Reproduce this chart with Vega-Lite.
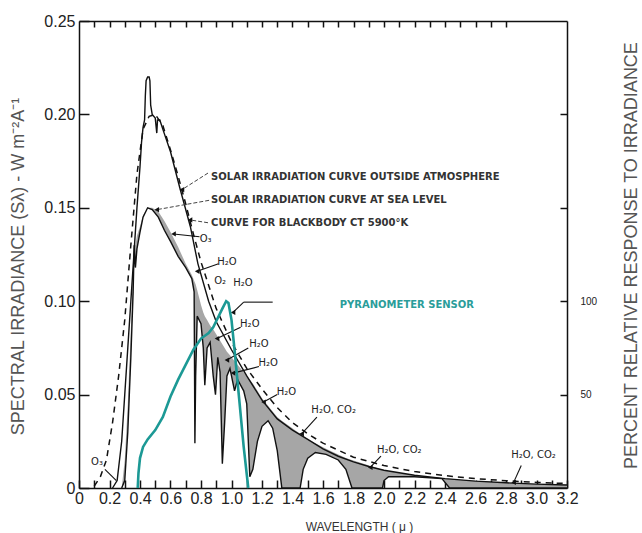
{
  "$schema": "https://vega.github.io/schema/vega-lite/v6.json",
  "width": 488,
  "height": 467,
  "autosize": {"type": "none"},
  "padding": {"left": 79, "top": 21, "right": 75, "bottom": 45},
  "background": "white",
  "config": {
    "view": {"stroke": null},
    "axis": {"grid": false, "labelFont": "Liberation Sans", "titleFont": "Liberation Sans", "domainColor": "#111", "tickColor": "#111", "labelColor": "#222", "titleColor": "#555", "titleFontWeight": "normal", "domainWidth": 1.5, "tickWidth": 1.5}
  },
  "datasets": {
    "outside": [
      {"lam": 0.22, "s": 0}, {"lam": 0.25, "s": 0.004}, {"lam": 0.28, "s": 0.025}, {"lam": 0.30, "s": 0.05}, {"lam": 0.32, "s": 0.075}, {"lam": 0.34, "s": 0.1}, {"lam": 0.36, "s": 0.125}, {"lam": 0.38, "s": 0.15}, {"lam": 0.40, "s": 0.172}, {"lam": 0.41, "s": 0.185}, {"lam": 0.42, "s": 0.193}, {"lam": 0.43, "s": 0.197}, {"lam": 0.435, "s": 0.21}, {"lam": 0.44, "s": 0.218}, {"lam": 0.45, "s": 0.22}, {"lam": 0.46, "s": 0.22}, {"lam": 0.465, "s": 0.218}, {"lam": 0.47, "s": 0.205}, {"lam": 0.48, "s": 0.2}, {"lam": 0.5, "s": 0.198}, {"lam": 0.51, "s": 0.19}, {"lam": 0.515, "s": 0.197}, {"lam": 0.53, "s": 0.197}, {"lam": 0.55, "s": 0.192}, {"lam": 0.6, "s": 0.18}, {"lam": 0.66, "s": 0.161}, {"lam": 0.73, "s": 0.14}, {"lam": 0.78, "s": 0.12}, {"lam": 0.85, "s": 0.1}, {"lam": 0.9, "s": 0.089}, {"lam": 1.0, "s": 0.074}, {"lam": 1.1, "s": 0.06}, {"lam": 1.2, "s": 0.047}, {"lam": 1.3, "s": 0.037}, {"lam": 1.4, "s": 0.031}, {"lam": 1.5, "s": 0.026}, {"lam": 1.6, "s": 0.021}, {"lam": 1.7, "s": 0.017}, {"lam": 1.8, "s": 0.014}, {"lam": 1.9, "s": 0.0115}, {"lam": 2.0, "s": 0.0095}, {"lam": 2.2, "s": 0.0068}, {"lam": 2.4, "s": 0.005}, {"lam": 2.6, "s": 0.0037}, {"lam": 2.8, "s": 0.0028}, {"lam": 3.0, "s": 0.0021}, {"lam": 3.2, "s": 0.0016}
    ],
    "blackbody": [
      {"lam": 0.10, "s": 0.001}, {"lam": 0.14, "s": 0.006}, {"lam": 0.18, "s": 0.015}, {"lam": 0.22, "s": 0.035}, {"lam": 0.26, "s": 0.06}, {"lam": 0.30, "s": 0.09}, {"lam": 0.34, "s": 0.13}, {"lam": 0.38, "s": 0.168}, {"lam": 0.42, "s": 0.192}, {"lam": 0.46, "s": 0.199}, {"lam": 0.50, "s": 0.2}, {"lam": 0.55, "s": 0.194}, {"lam": 0.6, "s": 0.181}, {"lam": 0.65, "s": 0.167}, {"lam": 0.7, "s": 0.152}, {"lam": 0.75, "s": 0.136}, {"lam": 0.8, "s": 0.121}, {"lam": 0.9, "s": 0.096}, {"lam": 1.0, "s": 0.078}, {"lam": 1.1, "s": 0.064}, {"lam": 1.2, "s": 0.053}, {"lam": 1.3, "s": 0.043}, {"lam": 1.4, "s": 0.035}, {"lam": 1.5, "s": 0.029}, {"lam": 1.6, "s": 0.024}, {"lam": 1.8, "s": 0.0165}, {"lam": 2.0, "s": 0.012}, {"lam": 2.2, "s": 0.0088}, {"lam": 2.4, "s": 0.0066}, {"lam": 2.6, "s": 0.005}, {"lam": 2.8, "s": 0.0039}, {"lam": 3.0, "s": 0.003}, {"lam": 3.2, "s": 0.0024}
    ],
    "sealevel": [
      {"lam": 0.28, "env": 0, "s": 0}, {"lam": 0.30, "env": 0.015, "s": 0.004}, {"lam": 0.32, "env": 0.045, "s": 0.03}, {"lam": 0.34, "env": 0.085, "s": 0.07}, {"lam": 0.355, "env": 0.115, "s": 0.105}, {"lam": 0.362, "env": 0.13, "s": 0.13}, {"lam": 0.37, "env": 0.13, "s": 0.118}, {"lam": 0.38, "env": 0.135, "s": 0.128}, {"lam": 0.40, "env": 0.14, "s": 0.137}, {"lam": 0.42, "env": 0.146, "s": 0.145}, {"lam": 0.45, "env": 0.15, "s": 0.15}, {"lam": 0.48, "env": 0.15, "s": 0.149}, {"lam": 0.52, "env": 0.148, "s": 0.145}, {"lam": 0.56, "env": 0.143, "s": 0.138}, {"lam": 0.6, "env": 0.137, "s": 0.132}, {"lam": 0.65, "env": 0.129, "s": 0.124}, {"lam": 0.7, "env": 0.12, "s": 0.118}, {"lam": 0.74, "env": 0.114, "s": 0.112}, {"lam": 0.755, "env": 0.111, "s": 0.105}, {"lam": 0.76, "env": 0.11, "s": 0.024}, {"lam": 0.765, "env": 0.109, "s": 0.06}, {"lam": 0.775, "env": 0.106, "s": 0.092}, {"lam": 0.8, "env": 0.098, "s": 0.088}, {"lam": 0.815, "env": 0.094, "s": 0.075}, {"lam": 0.825, "env": 0.092, "s": 0.055}, {"lam": 0.84, "env": 0.09, "s": 0.075}, {"lam": 0.86, "env": 0.087, "s": 0.078}, {"lam": 0.88, "env": 0.085, "s": 0.06}, {"lam": 0.895, "env": 0.083, "s": 0.05}, {"lam": 0.91, "env": 0.081, "s": 0.07}, {"lam": 0.925, "env": 0.079, "s": 0.062}, {"lam": 0.94, "env": 0.077, "s": 0.013}, {"lam": 0.955, "env": 0.075, "s": 0.035}, {"lam": 0.97, "env": 0.073, "s": 0.06}, {"lam": 0.99, "env": 0.071, "s": 0.064}, {"lam": 1.02, "env": 0.068, "s": 0.052}, {"lam": 1.04, "env": 0.066, "s": 0.058}, {"lam": 1.08, "env": 0.062, "s": 0.052}, {"lam": 1.1, "env": 0.06, "s": 0.045}, {"lam": 1.12, "env": 0.058, "s": 0.006}, {"lam": 1.14, "env": 0.056, "s": 0.01}, {"lam": 1.17, "env": 0.052, "s": 0.025}, {"lam": 1.2, "env": 0.048, "s": 0.033}, {"lam": 1.24, "env": 0.044, "s": 0.036}, {"lam": 1.27, "env": 0.041, "s": 0.032}, {"lam": 1.3, "env": 0.038, "s": 0.02}, {"lam": 1.33, "env": 0.036, "s": 0}, {"lam": 1.45, "env": 0.029, "s": 0}, {"lam": 1.47, "env": 0.028, "s": 0.01}, {"lam": 1.5, "env": 0.026, "s": 0.016}, {"lam": 1.55, "env": 0.024, "s": 0.019}, {"lam": 1.62, "env": 0.021, "s": 0.018}, {"lam": 1.7, "env": 0.018, "s": 0.015}, {"lam": 1.75, "env": 0.016, "s": 0.01}, {"lam": 1.79, "env": 0.015, "s": 0}, {"lam": 1.99, "env": 0.0098, "s": 0}, {"lam": 2.0, "env": 0.0095, "s": 0.004}, {"lam": 2.03, "env": 0.009, "s": 0.006}, {"lam": 2.2, "env": 0.0068, "s": 0.006}, {"lam": 2.38, "env": 0.0052, "s": 0.005}, {"lam": 2.43, "env": 0.005, "s": 0}, {"lam": 2.6, "env": 0.0037, "s": 0}, {"lam": 2.8, "env": 0.0028, "s": 0}, {"lam": 3.0, "env": 0.0021, "s": 0}, {"lam": 3.2, "env": 0.0016, "s": 0}
    ],
    "pyranometer": [
      {"lam": 0.385, "pct": 0}, {"lam": 0.39, "pct": 8}, {"lam": 0.40, "pct": 16}, {"lam": 0.42, "pct": 22}, {"lam": 0.45, "pct": 26}, {"lam": 0.5, "pct": 31}, {"lam": 0.55, "pct": 38}, {"lam": 0.6, "pct": 49}, {"lam": 0.65, "pct": 58}, {"lam": 0.7, "pct": 66}, {"lam": 0.75, "pct": 74}, {"lam": 0.8, "pct": 80}, {"lam": 0.85, "pct": 83}, {"lam": 0.88, "pct": 86}, {"lam": 0.91, "pct": 91}, {"lam": 0.94, "pct": 96}, {"lam": 0.965, "pct": 100}, {"lam": 0.98, "pct": 99}, {"lam": 1.0, "pct": 90}, {"lam": 1.02, "pct": 74}, {"lam": 1.05, "pct": 48}, {"lam": 1.08, "pct": 22}, {"lam": 1.11, "pct": 0}
    ],
    "leaders": [
      {"kind": "legend", "head": "yes", "lam": 0.846, "s": 0.1686, "lam2": 0.675, "s2": 0.1597},
      {"kind": "legend", "head": "yes", "lam": 0.853, "s": 0.154, "lam2": 0.51, "s2": 0.149},
      {"kind": "legend", "head": "yes", "lam": 0.846, "s": 0.142, "lam2": 0.728, "s2": 0.1435},
      {"kind": "chem", "head": "yes", "lam": 0.79, "s": 0.1345, "lam2": 0.62, "s2": 0.136},
      {"kind": "chem", "head": "yes", "lam": 0.915, "s": 0.12, "lam2": 0.775, "s2": 0.116},
      {"kind": "chem", "head": "no", "lam": 1.27, "s": 0.0995, "lam2": 1.08, "s2": 0.0995},
      {"kind": "chem", "head": "yes", "lam": 1.08, "s": 0.0995, "lam2": 1.01, "s2": 0.094},
      {"kind": "chem", "head": "yes", "lam": 1.06, "s": 0.086, "lam2": 0.905, "s2": 0.08},
      {"kind": "chem", "head": "yes", "lam": 1.11, "s": 0.075, "lam2": 0.97, "s2": 0.0685},
      {"kind": "chem", "head": "yes", "lam": 1.18, "s": 0.065, "lam2": 1.01, "s2": 0.0615},
      {"kind": "chem", "head": "yes", "lam": 1.3, "s": 0.05, "lam2": 1.21, "s2": 0.046},
      {"kind": "chem", "head": "yes", "lam": 1.56, "s": 0.038, "lam2": 1.46, "s2": 0.029},
      {"kind": "chem", "head": "yes", "lam": 1.98, "s": 0.017, "lam2": 1.91, "s2": 0.011},
      {"kind": "chem", "head": "yes", "lam": 2.9, "s": 0.012, "lam2": 2.85, "s2": 0.003},
      {"kind": "chem", "head": "no", "lam": 0.17, "s": 0.01, "lam2": 0.245, "s2": 0.004}
    ],
    "notes": [
      {"kind": "legend", "lam": 0.866, "s": 0.1665, "label": "SOLAR  IRRADIATION  CURVE  OUTSIDE  ATMOSPHERE"},
      {"kind": "legend", "lam": 0.866, "s": 0.154, "label": "SOLAR  IRRADIATION  CURVE  AT  SEA LEVEL"},
      {"kind": "legend", "lam": 0.866, "s": 0.142, "label": "CURVE FOR BLACKBODY CT 5900°K"},
      {"kind": "chem", "lam": 0.83, "s": 0.1335, "label": "O₃"},
      {"kind": "chem", "lam": 0.97, "s": 0.121, "label": "H₂O"},
      {"kind": "chem", "lam": 0.925, "s": 0.111, "label": "O₂"},
      {"kind": "chem", "lam": 1.075, "s": 0.110, "label": "H₂O"},
      {"kind": "chem", "lam": 1.12, "s": 0.088, "label": "H₂O"},
      {"kind": "chem", "lam": 1.18, "s": 0.077, "label": "H₂O"},
      {"kind": "chem", "lam": 1.24, "s": 0.067, "label": "H₂O"},
      {"kind": "chem", "lam": 1.36, "s": 0.0514, "label": "H₂O"},
      {"kind": "chem", "lam": 1.67, "s": 0.042, "label": "H₂O, CO₂"},
      {"kind": "chem", "lam": 2.1, "s": 0.0203, "label": "H₂O, CO₂"},
      {"kind": "chem", "lam": 2.98, "s": 0.0177, "label": "H₂O, CO₂"},
      {"kind": "chem", "lam": 0.118, "s": 0.014, "label": "O₃"},
      {"kind": "pyr", "lam": 2.15, "s": 0.098, "label": "PYRANOMETER SENSOR"}
    ]
  },
  "resolve": {"scale": {"y": "independent"}, "axis": {"x": "independent"}},
  "layer": [
    {
      "encoding": {
        "x": {"field": "lam", "type": "quantitative", "scale": {"domain": [0, 3.2], "nice": false, "zero": false},
          "axis": {"orient": "bottom", "title": "WAVELENGTH  ( μ )", "titleFontSize": 12, "titleColor": "#333", "titleX": 280, "titleY": 38, "titleAlign": "center", "titleBaseline": "middle",
            "values": [0, 0.1, 0.2, 0.3, 0.4, 0.5, 0.6, 0.7, 0.8, 0.9, 1.0, 1.1, 1.2, 1.3, 1.4, 1.5, 1.6, 1.7, 1.8, 1.9, 2.0, 2.1, 2.2, 2.3, 2.4, 2.5, 2.6, 2.7, 2.8, 2.9, 3.0, 3.1, 3.2],
            "labelExpr": "round(datum.value*10) % 2 == 0 ? (datum.value == 0 ? '0' : format(datum.value, '.1f')) : ''",
            "tickSize": -8, "labelPadding": 10, "labelFontSize": 16, "labelFlush": false, "labelOverlap": false}},
        "y": {"field": "s", "type": "quantitative", "scale": {"domain": [0, 0.25], "nice": false},
          "axis": {"orient": "left", "title": "SPECTRAL IRRADIANCE (Sλ) - W m⁻²A⁻¹", "titleFontSize": 18, "titleAngle": -90, "titleX": -61, "titleY": 245, "titleAlign": "center", "titleBaseline": "middle",
            "values": [0, 0.05, 0.1, 0.15, 0.2, 0.25],
            "labelExpr": "datum.value == 0 ? '0' : format(datum.value, '.2f')",
            "tickSize": -10, "labelPadding": 14, "labelFontSize": 16, "labelOverlap": false}}
      },
      "layer": [
        {
          "data": {"name": "sealevel"},
          "mark": {"type": "area", "color": "#a6a6a6", "opacity": 1},
          "encoding": {
            "y": {"field": "env", "type": "quantitative"},
            "y2": {"field": "s"}
          }
        },
        {
          "data": {"name": "outside"},
          "mark": {"type": "line", "color": "#111", "strokeWidth": 1.4}
        },
        {
          "data": {"name": "blackbody"},
          "mark": {"type": "line", "color": "#111", "strokeWidth": 1.5, "strokeDash": [6, 5]}
        },
        {
          "data": {"name": "sealevel"},
          "mark": {"type": "line", "color": "#111", "strokeWidth": 1.4}
        },
        {
          "data": {"name": "leaders"},
          "transform": [{"filter": "datum.kind == 'legend'"}],
          "mark": {"type": "rule", "color": "#444", "strokeWidth": 1, "strokeDash": [4, 2]},
          "encoding": {"x2": {"field": "lam2"}, "y2": {"field": "s2"}}
        },
        {
          "data": {"name": "leaders"},
          "transform": [{"filter": "datum.kind == 'chem'"}],
          "mark": {"type": "rule", "color": "#111", "strokeWidth": 1.1},
          "encoding": {"x2": {"field": "lam2"}, "y2": {"field": "s2"}}
        },
        {
          "data": {"name": "leaders"},
          "transform": [{"filter": "datum.head == 'yes'"}],
          "mark": {"type": "point", "shape": "triangle-left", "filled": true, "color": "#111", "size": 28, "opacity": 1},
          "encoding": {"x": {"field": "lam2", "type": "quantitative"}, "y": {"field": "s2", "type": "quantitative"}}
        },
        {
          "data": {"name": "notes"},
          "transform": [{"filter": "datum.kind == 'legend'"}],
          "mark": {"type": "text", "align": "left", "baseline": "middle", "font": "DejaVu Sans", "fontSize": 10, "fontWeight": "bold", "color": "#333"},
          "encoding": {"text": {"field": "label"}}
        },
        {
          "data": {"name": "notes"},
          "transform": [{"filter": "datum.kind == 'chem'"}],
          "mark": {"type": "text", "align": "center", "baseline": "middle", "font": "DejaVu Sans", "fontSize": 10, "color": "#222"},
          "encoding": {"text": {"field": "label"}}
        },
        {
          "data": {"name": "notes"},
          "transform": [{"filter": "datum.kind == 'pyr'"}],
          "mark": {"type": "text", "align": "center", "baseline": "middle", "font": "DejaVu Sans", "fontSize": 10, "fontWeight": "bold", "color": "#2a9d9a"},
          "encoding": {"text": {"field": "label"}}
        }
      ]
    },
    {
      "data": {"name": "pyranometer"},
      "mark": {"type": "line", "color": "#1c9995", "strokeWidth": 2.6},
      "encoding": {
        "x": {"field": "lam", "type": "quantitative",
          "axis": {"orient": "top", "title": null, "labels": false, "tickSize": -6,
            "values": [0.1, 0.2, 0.3, 0.4, 0.5, 0.6, 0.7, 0.8, 0.9, 1.0, 1.1, 1.2, 1.3, 1.4, 1.5, 1.6, 1.7, 1.8, 1.9, 2.0, 2.1, 2.2, 2.3, 2.4, 2.5, 2.6, 2.7, 2.8]}},
        "y": {"field": "pct", "type": "quantitative", "scale": {"domain": [0, 250], "nice": false},
          "axis": {"orient": "right", "title": "PERCENT RELATIVE RESPONSE TO IRRADIANCE", "titleFontSize": 18, "titleAngle": -90, "titleX": 64, "titleY": 234, "titleAlign": "center", "titleBaseline": "middle",
            "values": [50, 100, 150, 200],
            "labelExpr": "datum.value == 50 || datum.value == 100 ? datum.label : ''",
            "tickSize": -7, "labelPadding": 20, "labelFontSize": 10}}
      }
    }
  ]
}
